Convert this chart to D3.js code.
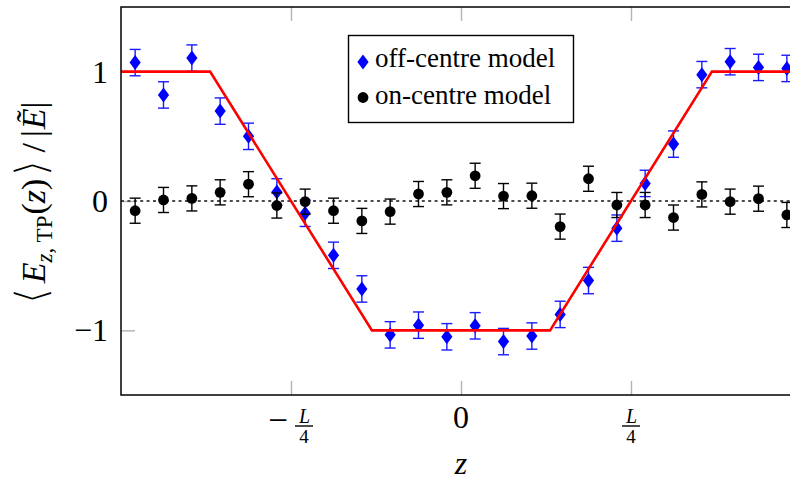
<!DOCTYPE html>
<html>
<head>
<meta charset="utf-8">
<script src="https://cdn.jsdelivr.net/npm/d3@7"></script>
<style>
  html, body { margin: 0; padding: 0; background: #fff; }
  svg { display: block; }
  text { font-family: "Liberation Serif", "DejaVu Serif", serif; fill: #000; }
</style>
</head>
<body>
<svg id="chart" width="790" height="480"></svg>
<script>
// ---- data ----
const zCentres = [-0.4792, -0.4375, -0.3958, -0.3542, -0.3125, -0.2708, -0.2292, -0.1875,
                  -0.1458, -0.1042, -0.0625, -0.0208, 0.0208, 0.0625, 0.1042, 0.1458,
                  0.1875, 0.2292, 0.2708, 0.3125, 0.3542, 0.3958, 0.4375, 0.4792];
const offCentre = [1.07, 0.82, 1.105, 0.695, 0.50, 0.07, -0.095, -0.42, -0.68, -1.035, -0.96, -1.05,
                   -0.965, -1.087, -1.044, -0.877, -0.615, -0.21, 0.136, 0.44, 0.977, 1.077, 1.033, 1.025];
const offErr = [0.102, 0.102, 0.102, 0.102, 0.102, 0.102, 0.102, 0.102, 0.102, 0.102, 0.102, 0.102,
                0.102, 0.102, 0.102, 0.102, 0.102, 0.102, 0.102, 0.102, 0.102, 0.102, 0.102, 0.102];
const onCentre = [-0.075, 0.008, 0.02, 0.067, 0.13, -0.035, -0.005, -0.075, -0.154, -0.082, 0.054, 0.067,
                  0.195, 0.038, 0.041, -0.198, 0.172, -0.031, -0.031, -0.128, 0.051, -0.005, 0.018, -0.108];
const onErr = [0.097, 0.097, 0.097, 0.097, 0.097, 0.097, 0.097, 0.097, 0.097, 0.097, 0.097, 0.097,
               0.097, 0.097, 0.097, 0.097, 0.097, 0.097, 0.097, 0.097, 0.097, 0.097, 0.097, 0.097];
const profileZ = [-0.5, -0.369, -0.131, 0.131, 0.369, 0.5];
const profileV = [1, 1, -1, -1, 1, 1];
const xTickValues = [-0.25, 0, 0.25];
const xTickLabels = [{sign: "−", num: "L", den: "4"}, {text: "0"}, {sign: "", num: "L", den: "4"}];
const yTickValues = [-1, 0, 1];
const yTickLabels = ["−1", "0", "1"];
const legendLabels = ["off-centre model", "on-centre model"];

// ---- layout ----
const pL = 121, pR = 801, pT = 7, pB = 395;
const svg = d3.select("#chart");
const x = d3.scaleLinear().domain([-0.5, 0.5]).range([pL, pR]);
const y = d3.scaleLinear().domain([-1.5, 1.5]).range([pB, pT]);

const defs = svg.append("defs");
defs.append("clipPath").attr("id", "plotclip")
  .append("rect").attr("x", pL).attr("y", pT).attr("width", pR - pL).attr("height", pB - pT);

// ticks (grey, inward)
const tickCol = "#b3b3b3";
const gB = svg.append("g").attr("transform", `translate(0,${pB})`)
  .call(d3.axisBottom(x).tickValues(xTickValues).tickSize(-14).tickFormat(""));
const gT = svg.append("g").attr("transform", `translate(0,${pT})`)
  .call(d3.axisTop(x).tickValues(xTickValues).tickSize(-14).tickFormat(""));
const gL = svg.append("g").attr("transform", `translate(${pL},0)`)
  .call(d3.axisLeft(y).tickValues(yTickValues).tickSize(-14).tickPadding(13)
        .tickFormat((d, i) => yTickLabels[i]));
[gB, gT, gL].forEach(g => {
  g.select(".domain").remove();
  g.selectAll(".tick line").attr("stroke", tickCol).attr("stroke-width", 1.4);
});
gL.selectAll(".tick text").attr("font-size", 32).attr("font-family", "Liberation Serif")
  .attr("fill", "#000").attr("dy", "0.33em");

// x tick labels (fractions)
xTickValues.forEach((v, i) => {
  const lab = xTickLabels[i];
  const g = svg.append("g").attr("transform", `translate(${x(v)},${pB})`);
  if (lab.text !== undefined) {
    g.append("text").attr("text-anchor", "middle").attr("y", 33).attr("font-size", 32).text(lab.text);
  } else {
    let fx = 0;
    if (lab.sign) {
      g.append("text").attr("text-anchor", "middle").attr("x", -13).attr("y", 37)
        .attr("font-size", 35).text(lab.sign);
      fx = 13;
    }
    g.append("text").attr("text-anchor", "middle").attr("x", fx + 0.5).attr("y", 28)
      .attr("font-size", 20).attr("font-style", "italic").text(lab.num);
    g.append("line").attr("x1", fx - 9).attr("x2", fx + 9).attr("y1", 31).attr("y2", 31)
      .attr("stroke", "#000").attr("stroke-width", 1.4);
    g.append("text").attr("text-anchor", "middle").attr("x", fx).attr("y", 48)
      .attr("font-size", 19).text(lab.den);
  }
});

// axis labels
svg.append("text").attr("x", 461).attr("y", 474).attr("text-anchor", "middle")
  .attr("font-size", 32).attr("font-style", "italic").text("z");

const yl = svg.append("text").attr("transform", "translate(45,203) rotate(-90)")
  .attr("text-anchor", "middle").attr("font-size", 34);
yl.append("tspan").attr("font-size", 44).attr("font-family", "DejaVu Sans")
  .attr("stroke", "#fff").attr("stroke-width", 1.6).attr("dy", 1).text("⟨");
yl.append("tspan").attr("font-style", "italic").attr("dy", -1).attr("dx", 4).text("E");
yl.append("tspan").attr("font-size", 23).attr("dy", 7).attr("font-style", "italic").text("z");
yl.append("tspan").attr("font-size", 23).text(", TP");
yl.append("tspan").attr("dy", -7).attr("dx", 1).text("(");
yl.append("tspan").attr("font-style", "italic").text("z");
yl.append("tspan").text(")");
yl.append("tspan").attr("font-size", 44).attr("font-family", "DejaVu Sans")
  .attr("stroke", "#fff").attr("stroke-width", 1.6).attr("dy", 1).attr("dx", 2).text("⟩");
yl.append("tspan").attr("dy", -1).attr("dx", 7).text("/");
yl.append("tspan").attr("dx", 6).text("|");
yl.append("tspan").attr("font-style", "italic").attr("dx", 1).text("Ẽ");
yl.append("tspan").text("|");

// plot content
const plot = svg.append("g").attr("clip-path", "url(#plotclip)");

// zero dotted line
plot.append("line").attr("x1", pL).attr("x2", pR).attr("y1", y(0)).attr("y2", y(0))
  .attr("stroke", "#4d4d4d").attr("stroke-width", 2.2).attr("stroke-dasharray", "3,3.4");

function errorBars(vals, errs, col) {
  const g = plot.append("g").attr("stroke", col).attr("stroke-width", 1.4).attr("fill", "none");
  vals.forEach((v, i) => {
    const cx = x(zCentres[i]), y1 = y(v + errs[i]), y2 = y(v - errs[i]);
    g.append("line").attr("x1", cx).attr("x2", cx).attr("y1", y1).attr("y2", y2);
    g.append("line").attr("x1", cx - 5.5).attr("x2", cx + 5.5).attr("y1", y1).attr("y2", y1);
    g.append("line").attr("x1", cx - 5.5).attr("x2", cx + 5.5).attr("y1", y2).attr("y2", y2);
  });
}
const diamond = (cx, cy) => `M${cx},${cy - 7.5}L${cx + 5.6},${cy}L${cx},${cy + 7.5}L${cx - 5.6},${cy}Z`;

// off-centre series
errorBars(offCentre, offErr, "#1a1aff");
plot.append("g").selectAll("path").data(offCentre).join("path")
  .attr("d", (d, i) => diamond(x(zCentres[i]), y(d))).attr("fill", "#0000ff");

// on-centre series
errorBars(onCentre, onErr, "#000");
plot.append("g").selectAll("circle").data(onCentre).join("circle")
  .attr("cx", (d, i) => x(zCentres[i])).attr("cy", d => y(d)).attr("r", 5.4).attr("fill", "#000");

// red profile
const line = d3.line().x((d, i) => x(profileZ[i])).y(d => y(d));
plot.append("path").datum(profileV).attr("d", line).attr("fill", "none")
  .attr("stroke", "#ff0000").attr("stroke-width", 2.6).attr("stroke-linejoin", "miter");

// frame
svg.append("rect").attr("x", pL).attr("y", pT).attr("width", pR - pL).attr("height", pB - pT)
  .attr("fill", "none").attr("stroke", "#000").attr("stroke-width", 1.5);

// legend
const lg = svg.append("g");
lg.append("rect").attr("x", 348.5).attr("y", 35.5).attr("width", 225).attr("height", 87)
  .attr("fill", "#fff").attr("stroke", "#000").attr("stroke-width", 1.4);
lg.append("path").attr("d", diamond(363, 62)).attr("fill", "#0000ff");
lg.append("circle").attr("cx", 363).attr("cy", 97.5).attr("r", 5.4).attr("fill", "#000");
lg.append("text").attr("x", 375).attr("y", 67).attr("font-size", 27).text(legendLabels[0]);
lg.append("text").attr("x", 375).attr("y", 104).attr("font-size", 27).text(legendLabels[1]);
</script>
</body>
</html>
